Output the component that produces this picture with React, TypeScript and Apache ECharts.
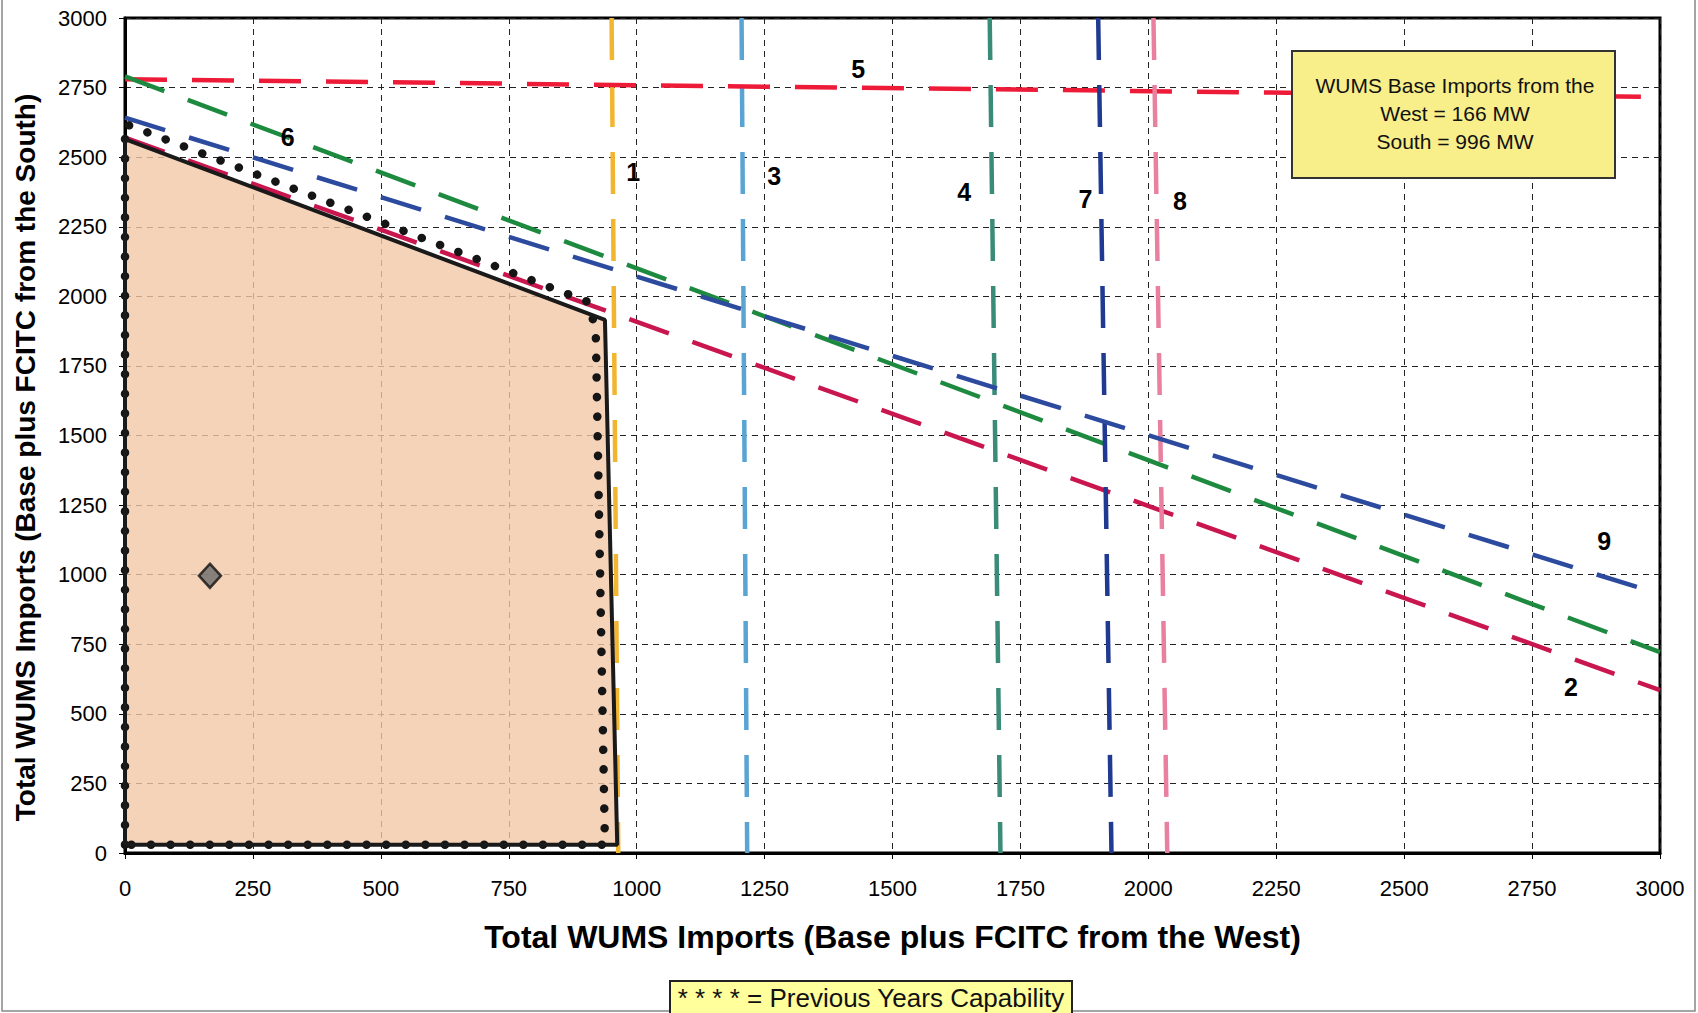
import React, { useEffect, useRef } from "react";
import * as echarts from "echarts";

// ---- data ----
const axisMin = 0;
const axisMax = 3000;
const axisStep = 250;

// shaded current capability region (peach)
const capabilityRegion = [[0, 30], [0, 2565], [938, 1915], [962, 30]];
// solid black boundary of current capability
const capabilityBoundary = [[0, 30], [0, 2565], [938, 1915], [962, 30], [0, 30]];
// dotted previous-year capability
const previousCapability = [[0, 30], [0, 2620], [905, 1980], [920, 1880], [938, 30], [0, 30]];

// constraint lines
const constraint1 = [[951, 3000], [964, 0]];
const constraint2 = [[0, 2570], [3000, 585]];
const constraint3 = [[1205, 3000], [1216, 0]];
const constraint4 = [[1690, 3000], [1711, 0]];
const constraint5 = [[0, 2780], [3000, 2716]];
const constraint6 = [[0, 2790], [3000, 722]];
const constraint7 = [[1902, 3000], [1928, 0]];
const constraint8 = [[2010, 3000], [2037, 0]];
const constraint9 = [[0, 2642], [3000, 930]];

const constraintColors = ["#F2B530", "#C9164E", "#5AA4D4", "#3A8C78", "#EE1B38", "#1E8A40", "#1F3A90", "#E9809F", "#2C4A9E"];

// base imports point (West = 166, South = 996)
const basePoint = [[166, 996]];

// curve number labels
const labelNames = ["1", "2", "3", "4", "5", "6", "7", "8", "9"];
const labelX = [993, 2826, 1269, 1640, 1433, 318, 1877, 2062, 2891];
const labelY = [2445, 598, 2431, 2374, 2818, 2574, 2350, 2344, 1122];

const xTitle = "Total WUMS Imports (Base plus FCITC from the West)";
const yTitle = "Total WUMS Imports (Base plus FCITC from the South)";
const noteText = "WUMS Base Imports from the\nWest = 166 MW\nSouth = 996 MW";
const footText = "* * * * = Previous Years Capability";

const FONT = "Liberation Sans, Arial, sans-serif";

export default function App() {
  const ref = useRef<HTMLDivElement>(null);

  useEffect(() => {
    if (!ref.current) return;
    const chart = echarts.init(ref.current, undefined, { renderer: "svg" });

    const constraints = [
      constraint1, constraint2, constraint3, constraint4, constraint5,
      constraint6, constraint7, constraint8, constraint9,
    ];

    const dashedSeries = constraints.map((d, i) => ({
      type: "line",
      name: "Constraint " + (i + 1),
      data: d,
      showSymbol: false,
      symbol: "none",
      z: 4,
      lineStyle: { color: constraintColors[i], width: 4.5, type: [42, 25] },
    }));

    const axisCommon = {
      type: "value",
      min: axisMin,
      max: axisMax,
      interval: axisStep,
      axisLine: { show: true, onZero: false, lineStyle: { color: "#000", width: 3 } },
      axisTick: { show: true, length: 6, lineStyle: { color: "#000", width: 1 } },
      splitLine: { show: true, lineStyle: { color: "#222", width: 1, type: [6, 5] } },
      nameLocation: "middle",
    };

    chart.setOption({
      animation: false,
      textStyle: { fontFamily: FONT },
      grid: {
        left: 125, right: 38, top: 18, bottom: 160,
        show: true, borderColor: "#000", borderWidth: 3, backgroundColor: "transparent",
      },
      xAxis: {
        ...axisCommon,
        name: xTitle,
        nameGap: 68,
        nameTextStyle: { fontSize: 32, fontWeight: "bold", color: "#000", fontFamily: FONT },
        axisLabel: { color: "#000", fontSize: 22, margin: 24, fontFamily: FONT, formatter: (v: number) => String(v) },
      },
      yAxis: {
        ...axisCommon,
        name: yTitle,
        nameGap: 86,
        nameTextStyle: { fontSize: 28, fontWeight: "bold", color: "#000", fontFamily: FONT, padding: [0, 44, 0, 0] },
        axisLabel: { color: "#000", fontSize: 22, margin: 18, fontFamily: FONT, formatter: (v: number) => String(v) },
      },
      series: [
        {
          type: "custom",
          name: "region",
          z: 1,
          data: [[0, 0]],
          renderItem: (params: any, api: any) => {
            const pts = capabilityRegion.map((p) => api.coord(p));
            return {
              type: "polygon",
              shape: { points: pts },
              style: { fill: "rgba(242,200,168,0.8)", stroke: "none" },
            };
          },
        },
        ...dashedSeries,
        {
          type: "line",
          name: "Previous",
          data: previousCapability,
          showSymbol: false,
          symbol: "none",
          z: 5,
          lineStyle: { color: "#151515", width: 8.5, type: [0.1, 19.5], cap: "round" },
        },
        {
          type: "line",
          name: "Current",
          data: capabilityBoundary,
          showSymbol: false,
          symbol: "none",
          z: 6,
          lineStyle: { color: "#1a1a1a", width: 4 },
        },
        {
          type: "scatter",
          name: "Base",
          data: basePoint,
          symbol: "diamond",
          symbolSize: [22, 24],
          z: 7,
          itemStyle: { color: "#6b6b6b", borderColor: "#111", borderWidth: 2.5 },
        },
        {
          type: "custom",
          name: "labels",
          z: 8,
          data: labelNames.map((n, i) => [labelX[i], labelY[i]]),
          renderItem: (params: any, api: any) => {
            const p = api.coord([api.value(0), api.value(1)]);
            return {
              type: "text",
              x: p[0],
              y: p[1],
              style: {
                text: labelNames[params.dataIndex],
                fill: "#000",
                fontSize: 25,
                fontWeight: "bold",
                fontFamily: FONT,
                align: "center",
                verticalAlign: "middle",
              },
            };
          },
        },
      ],
      graphic: [
        {
          type: "rect",
          shape: { x: 2, y: -10, width: 1693, height: 1021 },
          style: { fill: "none", stroke: "#888", lineWidth: 1.5 },
          silent: true,
        },
        {
          type: "rect",
          shape: { x: 1292, y: 51, width: 323, height: 127 },
          style: { fill: "#F8EE8A", stroke: "#333", lineWidth: 2 },
          z: 20,
        },
        {
          type: "text",
          x: 1455,
          y: 113,
          z: 21,
          style: {
            text: noteText,
            fontSize: 21,
            fontFamily: FONT,
            lineHeight: 28,
            fill: "#111",
            align: "center",
            verticalAlign: "middle",
            textAlign: "center",
            textVerticalAlign: "middle",
          },
        },
        {
          type: "rect",
          shape: { x: 670, y: 981, width: 402, height: 40 },
          style: { fill: "#FFFF9C", stroke: "#222", lineWidth: 2 },
          z: 20,
        },
        {
          type: "text",
          x: 871,
          y: 998,
          z: 21,
          style: {
            text: footText,
            fontSize: 26,
            fontFamily: FONT,
            fill: "#111",
            align: "center",
            verticalAlign: "middle",
            textAlign: "center",
            textVerticalAlign: "middle",
          },
        },
      ],
    });

    return () => chart.dispose();
  }, []);

  return (
    <div
      ref={ref}
      style={{ position: "fixed", left: 0, top: 0, width: 1698, height: 1013, background: "#fff" }}
    />
  );
}
